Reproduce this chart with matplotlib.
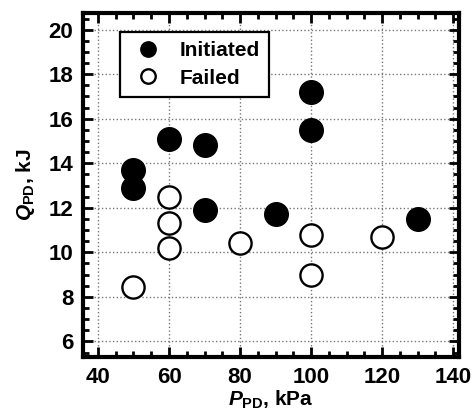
import numpy as np
import matplotlib
matplotlib.use('Agg')
import matplotlib.pyplot as plt
from matplotlib.ticker import MultipleLocator

# Initiated (filled) points
init_p = [50, 50, 60, 70, 70, 90, 100, 100, 130]
init_q = [13.7, 12.9, 15.1, 14.8, 11.9, 11.7, 17.2, 15.5, 11.5]

# Failed (open) points
fail_p = [50, 60, 60, 60, 80, 100, 100, 120]
fail_q = [8.45, 12.5, 11.3, 10.2, 10.4, 10.8, 9.0, 10.7]

plt.rcParams['font.family'] = 'Liberation Sans'
plt.rcParams['font.weight'] = 'bold'
plt.rcParams['axes.labelweight'] = 'bold'
plt.rcParams['mathtext.fontset'] = 'custom'
plt.rcParams['mathtext.it'] = 'Liberation Sans:italic:bold'
plt.rcParams['mathtext.rm'] = 'Liberation Sans:bold'


def main():
    fig = plt.figure(figsize=(4.72, 4.19), dpi=100)
    ax = fig.add_axes([0.176, 0.148, 0.796, 0.821])

    ax.plot(init_p, init_q, 'o', ms=17, color='black', mec='black',
            label='Initiated', zorder=3)
    ax.plot(fail_p, fail_q, 'o', ms=16, mfc='white', mec='black', mew=1.7,
            label='Failed', zorder=3)

    ax.set_xlim(35.8, 141.6)
    ax.set_ylim(5.3, 20.75)
    ax.xaxis.set_major_locator(MultipleLocator(20))
    ax.xaxis.set_minor_locator(MultipleLocator(5))
    ax.yaxis.set_major_locator(MultipleLocator(2))
    ax.yaxis.set_minor_locator(MultipleLocator(0.5))

    ax.tick_params(which='both', direction='in', top=True, right=True,
                   width=2, labelsize=16, pad=7)
    ax.tick_params(which='major', length=7)
    ax.tick_params(which='minor', length=4)
    for s in ax.spines.values():
        s.set_linewidth(3)

    ax.grid(True, which='major', linestyle=':', color='#777777', linewidth=1)
    ax.set_axisbelow(True)

    ax.set_xlabel(r'$P_{\mathrm{PD}}$, kPa', fontsize=15, labelpad=1)
    ax.set_ylabel(r'$Q_{\mathrm{PD}}$, kJ', fontsize=15, labelpad=8)

    leg = ax.legend(loc='upper left', bbox_to_anchor=(0.07, 0.975),
                    fontsize=15, frameon=True, fancybox=False,
                    handletextpad=0.6, borderpad=0.45, labelspacing=0.4,
                    handlelength=1.8, markerscale=0.65,
                    framealpha=1, edgecolor='black')
    leg.get_frame().set_linewidth(1.6)

    fig.savefig('out.png', dpi=100)


if __name__ == '__main__':
    main()
